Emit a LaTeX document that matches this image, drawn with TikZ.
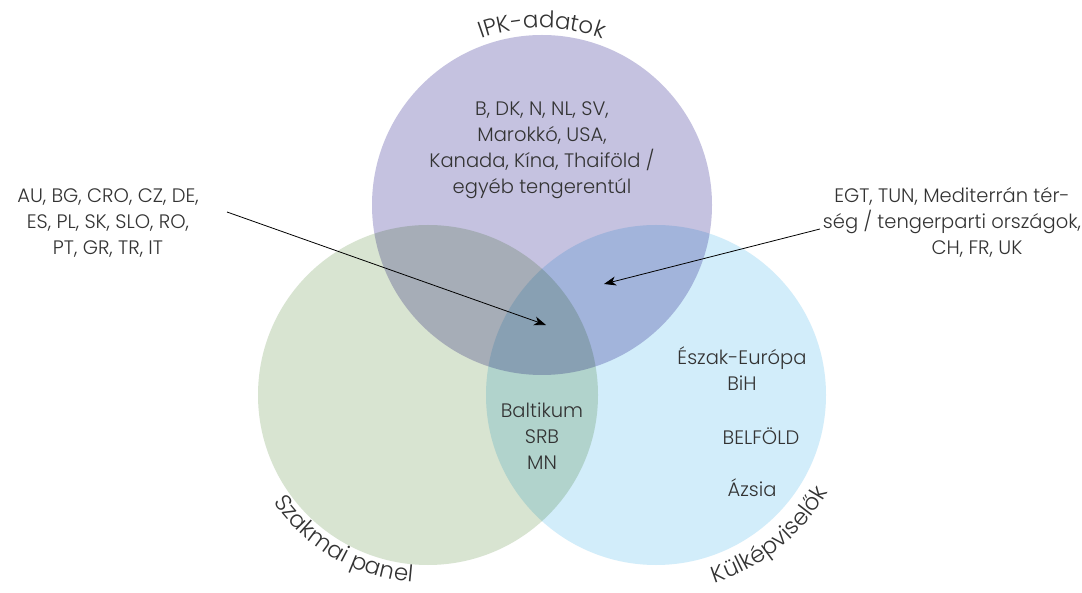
\documentclass[tikz,border=0pt]{standalone}
\usepackage{fontspec}
\setmainfont{Poppins Light}
\usetikzlibrary{calc,arrows.meta,decorations.text}
\definecolor{cPurple}{RGB}{197,194,224}
\definecolor{cGreen}{RGB}{216,228,209}
\definecolor{cBlue}{RGB}{210,237,250}
\definecolor{txt}{RGB}{51,51,51}
\newcommand{\curvefont}{\fontsize{23}{26}\selectfont}
\begin{document}
\begin{tikzpicture}[x=1pt,y=1pt,
  lbl/.style={font=\fontsize{19.5}{26}\selectfont, text=txt, inner sep=0pt, align=center},
  setfill/.style={blend mode=multiply},
  pointer/.style={-{Stealth[length=12pt,width=9pt,inset=3.5pt]}, line width=0.8pt, black},
  curved/.style={decorate, decoration={text along path, text align=center, text color=txt, text={|\curvefont|#1}}}
]
\useasboundingbox (0,0) rectangle (1082,592);
\fill[white] (0,0) rectangle (1082,592);

\coordinate (cT) at (542,387);
\coordinate (cG) at (428,197);
\coordinate (cB) at (656,197);

\fill[setfill, cPurple] (cT) circle[radius=170];
\fill[setfill, cGreen] (cG) circle[radius=170];
\fill[setfill, cBlue] (cB) circle[radius=170];

% curved set labels
\path[curved={IPK-adatok}] ($(cT)+(130:177)$) arc[start angle=130, end angle=50, radius=177];
\path[curved={Szakmai panel}] ($(cG)+(-171:188)$) arc[start angle=-171, end angle=-69, radius=188];
\path[curved={Külképviselők}] ($(cB)+(-101:197)$) arc[start angle=-101, end angle=-1, radius=197];

% texts
\node[lbl] (tIPK) at (542,441.5) {B, DK, N, NL, SV,\\Marokkó, USA,\\Kanada, Kína, Thaiföld /\\egyéb tengerentúl};
\node[lbl] (tLeft) at (108,368.8) {AU, BG, CRO, CZ, DE,\\ES, PL, SK, SLO, RO,\\PT, GR, TR, IT};
\node[lbl] (tRight) at (952,369.3) {EGT, TUN, Mediterrán tér-\\ség / tengerparti országok,\\\hspace*{50pt}CH, FR, UK};
\node[lbl] (tGB) at (542,155.7) {Baltikum\\SRB\\MN};
\node[lbl] (tNord) at (742,223.3) {Észak-Európa\\BiH};
\node[lbl, anchor=base] (tBel) at (761,147) {BELFÖLD};
\node[lbl, anchor=base] (tAsia) at (752,95) {Ázsia};

% pointers
\coordinate (aLs) at (227,380);
\coordinate (aLe) at (546,267);
\coordinate (aRs) at (820,363);
\coordinate (aRe) at (604,308);
\draw[pointer] (aLs) -- (aLe);
\draw[pointer] (aRs) -- (aRe);
\end{tikzpicture}
\end{document}
